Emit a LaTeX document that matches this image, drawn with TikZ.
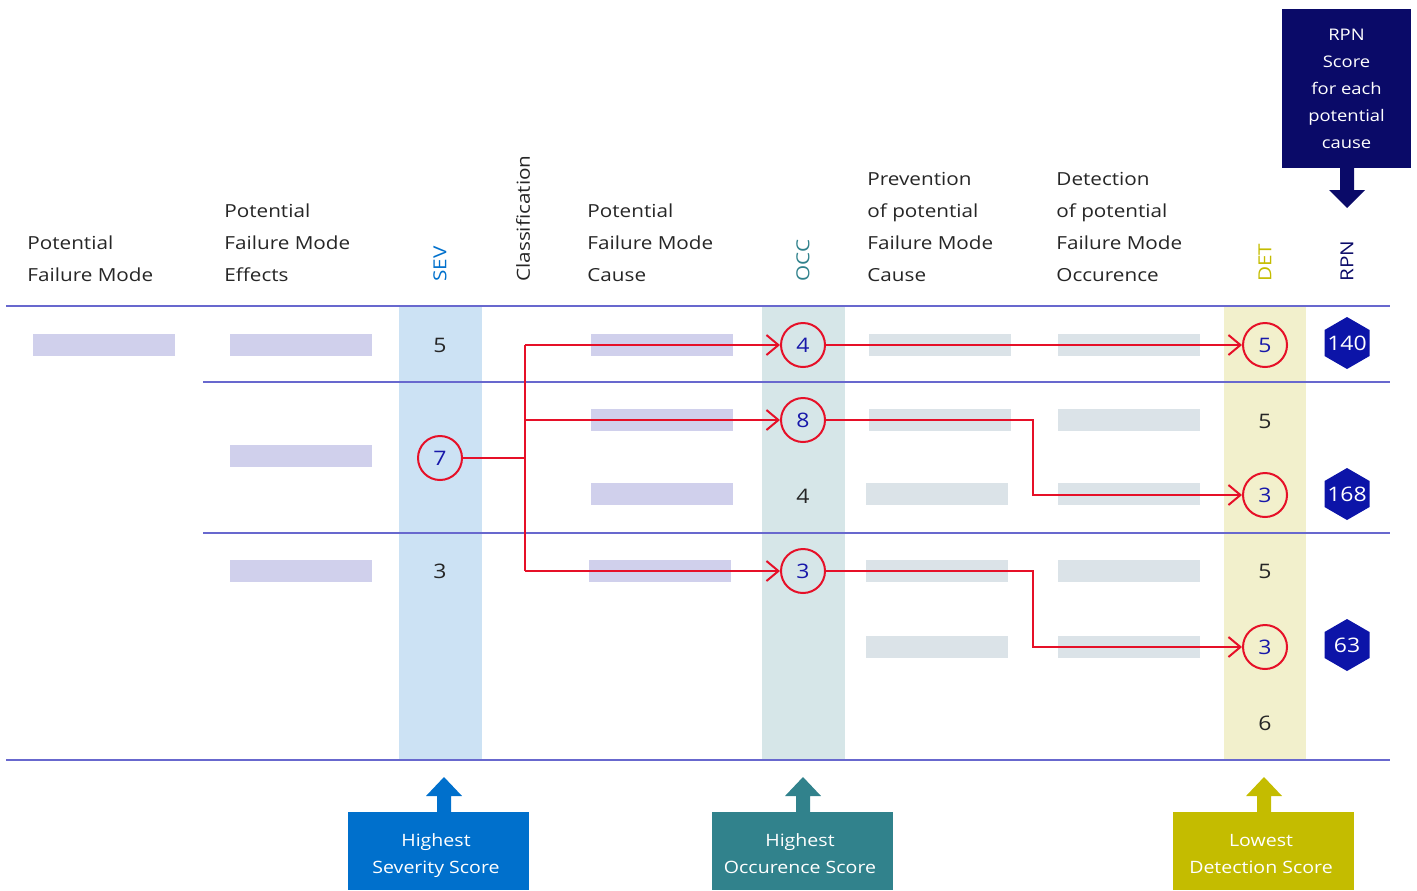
\documentclass[tikz,border=0pt]{standalone}
\usepackage{fontspec}
\setmainfont[FakeStretch=1.15]{Open Sans}
\usetikzlibrary{arrows.meta,shapes.geometric,calc,positioning}

\definecolor{gridline}{RGB}{104,104,206}
\definecolor{txtdark}{RGB}{38,38,38}
\definecolor{sevband}{RGB}{204,226,244}
\definecolor{occband}{RGB}{214,230,232}
\definecolor{detband}{RGB}{242,240,204}
\definecolor{lavbar}{RGB}{208,208,236}
\definecolor{greybar}{RGB}{219,227,232}
\definecolor{fmred}{RGB}{230,16,40}
\definecolor{numblue}{RGB}{24,24,170}
\definecolor{hexblue}{RGB}{12,20,168}
\definecolor{navy}{RGB}{10,10,104}
\definecolor{sevblue}{RGB}{0,112,204}
\definecolor{occteal}{RGB}{49,130,140}
\definecolor{detolive}{RGB}{196,188,0}

\begin{document}
\begin{tikzpicture}[x=0.5pt,y=-0.5pt,
  hdr/.style={anchor=south west, inner sep=0pt, align=left, text=txtdark,
              font=\fontsize{9}{16}\selectfont},
  vhdr/.style={rotate=90, anchor=west, inner sep=0pt, text=#1,
               font=\fontsize{9}{11}\selectfont},
  score/.style={inner sep=0pt, text=txtdark, font=\fontsize{10}{12}\selectfont},
  pick/.style={circle, draw=fmred, line width=1pt, minimum size=22pt, inner sep=0pt,
               text=numblue, font=\fontsize{10}{12}\selectfont},
  rpn/.style={regular polygon, regular polygon sides=6, shape border rotate=90,
              fill=hexblue, minimum size=26pt, inner sep=0pt,
              label={[text=white, inner sep=0pt, font=\fontsize{10}{12}\selectfont]center:#1}},
  note/.style={rectangle, fill=#1, inner sep=0pt,
               minimum width=90.5pt, minimum height=39pt},
  notetext/.style={text=white, align=center, inner sep=0pt, anchor=base,
                   font=\fontsize{8.5}{13.5}\selectfont},
  link/.style={draw=fmred, line width=1pt},
  flow/.style={link, -{Straight Barb[length=6pt,width=10pt,line width=1pt]}},
  grid/.style={draw=gridline, line width=0.8pt}
]
  \def\bw{142}
  \def\bh{22}

  % Fixed bounding box (pixels of the screenshot)
  \path[use as bounding box] (0,0) rectangle (1417,890);

  % ---- Score columns ----
  \fill[sevband] (399,306) rectangle (482,760);
  \fill[occband] (762,306) rectangle (845,760);
  \fill[detband] (1224,306) rectangle (1306,760);

  % ---- Placeholder cells ----
  \foreach \bx/\by in {33/334, 230/334, 230/445, 230/560, 591/334, 591/409, 591/483, 589/560}
    \fill[lavbar] (\bx,\by) rectangle ++(\bw,\bh);
  \foreach \bx/\by in {869/334, 869/409, 866/483, 866/560, 866/636,
                       1058/334, 1058/409, 1058/483, 1058/560, 1058/636}
    \fill[greybar] (\bx,\by) rectangle ++(\bw,\bh);

  % ---- Table rules ----
  \draw[grid] (6,306) -- (1390,306);
  \draw[grid] (203,382) -- (1390,382);
  \draw[grid] (203,533) -- (1390,533);
  \draw[grid] (6,760) -- (1390,760);

  % ---- Column headers ----
  \node[hdr] (hmode) at (27,282) {Potential\\Failure Mode};
  \node[hdr] (heff) at (224,282) {Potential\\Failure Mode\\Effects};
  \node[hdr] (hcause) at (587,282) {Potential\\Failure Mode\\Cause};
  \node[hdr] (hprev) at (867,282) {Prevention\\of potential\\Failure Mode\\Cause};
  \node[hdr] (hdet) at (1056,282) {Detection\\of potential\\Failure Mode\\Occurence};
  \node[vhdr=sevblue] (hsev) at (440,282) {SEV};
  \node[vhdr=txtdark] (hclass) at (523,282) {Classification};
  \node[vhdr=occteal] (hocc) at (803,282) {OCC};
  \node[vhdr=detolive] (hdt) at (1265,282) {DET};
  \node[vhdr=navy] (hrpn) at (1347,282) {RPN};

  % ---- Scores ----
  \node[score] (s5) at (440,345) {5};
  \node[pick] (s7) at (440,458) {7};
  \node[score] (s3) at (440,571) {3};
  \node[pick] (o4) at (803,345) {4};
  \node[pick] (o8) at (803,420) {8};
  \node[score] (o4b) at (803,496) {4};
  \node[pick] (o3) at (803,571) {3};
  \node[pick] (d5) at (1265,345) {5};
  \node[score] (d5b) at (1265,421) {5};
  \node[pick] (d3a) at (1265,495) {3};
  \node[score] (d5c) at (1265,571) {5};
  \node[pick] (d3b) at (1265,647) {3};
  \node[score] (d6) at (1265,723) {6};

  % ---- RPN results ----
  \node[rpn=140] (r140) at (1347,343) {};
  \node[rpn=168] (r168) at (1347,494) {};
  \node[rpn=63] (r63) at (1347,645) {};

  % ======== SELECTION PATHS ========
  \coordinate (fork) at (525,458);
  \coordinate (forktop) at (525,345);
  \coordinate (forkbot) at (525,571);
  \coordinate (jogA) at (1033,420);
  \coordinate (jogB) at (1033,571);
  \draw[link] (s7) -- (fork);
  \draw[link] (forktop) -- (forkbot);
  \draw[flow] (forktop) -- (o4);
  \draw[flow] (fork |- o8) -- (o8);
  \draw[flow] (forkbot) -- (o3);
  \draw[flow] (o4) -- (d5);
  \draw[flow] (o8) -- (jogA) |- (d3a);
  \draw[flow] (o3) -- (jogB) |- (d3b);

  % ======== CALLOUTS ========
  \node[note=navy, minimum width=64.5pt, minimum height=79.5pt, text=white,
        align=center, font=\fontsize{8}{13.5}\selectfont] (rpnnote) at (1346.5,88.5)
        {RPN\\Score\\for each\\potential\\cause};
  \fill[navy] (1340,168) -- (1340,190) -- (1329,190) -- (1347,208)
              -- (1365,190) -- (1354,190) -- (1354,168) -- cycle;

  \node[note=sevblue] (sevnote) at (438.5,851) {};
  \node[note=occteal] (occnote) at (802.5,851) {};
  \node[note=detolive] (detnote) at (1263.5,851) {};
  \node[notetext] (sevtxt) at (436,873) {Highest\\Severity Score};
  \node[notetext] (occtxt) at (800,873) {Highest\\Occurence Score};
  \node[notetext] (dettxt) at (1261,873) {Lowest\\Detection Score};
  \foreach \ax/\col in {444/sevblue, 803/occteal, 1264/detolive}
    \fill[\col] (\ax-7,813) -- (\ax-7,796) -- (\ax-18,796) -- (\ax,777)
                -- (\ax+18,796) -- (\ax+7,796) -- (\ax+7,813) -- cycle;

\end{tikzpicture}
\end{document}
